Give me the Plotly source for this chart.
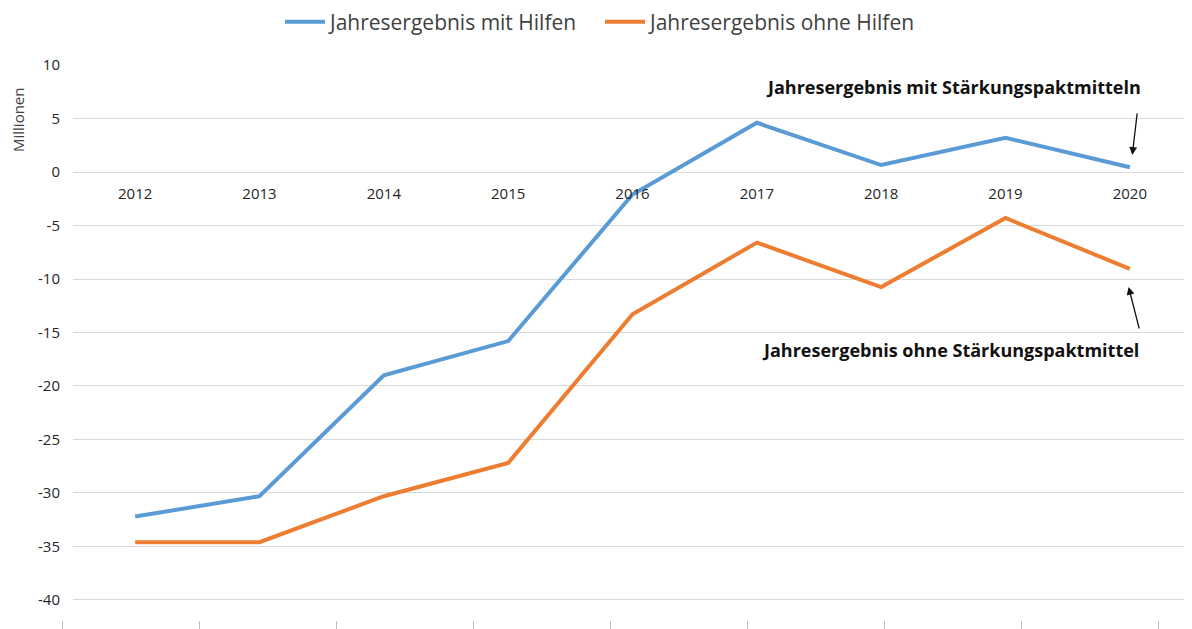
import plotly.graph_objects as go

years = ["2012", "2013", "2014", "2015", "2016", "2017", "2018", "2019", "2020"]
mit_hilfen = [-32.2, -30.3, -19.0, -15.8, -2.1, 4.6, 0.65, 3.2, 0.45]
ohne_hilfen = [-34.6, -34.6, -30.3, -27.2, -13.3, -6.6, -10.75, -4.3, -9.05]
y_ticks = [10, 5, 0, -5, -10, -15, -20, -25, -30, -35, -40]
y_tick_text = ["10", "5", "0", "-5", "-10", "-15", "-20", "-25", "-30", "-35", "-40"]
bottom_ticks = list(range(9))

FONT = "Open Sans"
BLUE = "#5B9BD5"
ORANGE = "#ED7D31"
GRID = "#D9D9D9"

y_min, y_max = -41.87, 10

fig = go.Figure()
fig.add_trace(go.Scatter(x=years, y=mit_hilfen, mode="lines", name="Jahresergebnis mit Hilfen",
                         line=dict(color=BLUE, width=4)))
fig.add_trace(go.Scatter(x=years, y=ohne_hilfen, mode="lines", name="Jahresergebnis ohne Hilfen",
                         line=dict(color=ORANGE, width=4)))
# invisible trace to carry the bottom tick axis
fig.add_trace(go.Scatter(x=[None], y=[None], xaxis="x2", yaxis="y2", showlegend=False,
                         hoverinfo="skip"))

# page body adds an 8px offset
W, H = 1184, 621
ml, mr, mt, mb = 32, 0, 57, 9
pw = W - ml - mr
ph = H - mt - mb
x_dom0 = (65 - ml) / pw
tick0 = 54 - ml          # first bottom tick in px inside plot area
tick_step = 137
x2_range = [-tick0 / tick_step, (pw - tick0) / tick_step]

fig.update_layout(
    width=W, height=H,
    margin=dict(l=ml, r=mr, t=mt, b=mb, autoexpand=False),
    paper_bgcolor="white", plot_bgcolor="white",
    font=dict(family=FONT, color="#333333"),
    showlegend=True,
    legend=dict(orientation="h", x=0.5, xanchor="center", xref="container",
                y=1 - 14 / H, yanchor="middle", yref="container",
                font=dict(size=21, color="#404040"), bgcolor="rgba(0,0,0,0)",
                itemwidth=40, entrywidth=265),
    xaxis=dict(domain=[x_dom0, 1], type="category", range=[-0.5, 8.5],
               anchor="free", position=(0 - y_min) / (y_max - y_min),
               showline=False, ticks="", showgrid=False, zeroline=False,
               tickfont=dict(size=15, color="#262626"), ticklabelstandoff=11),
    yaxis=dict(range=[y_min, y_max], tickvals=y_ticks, ticktext=y_tick_text, anchor="x",
               showgrid=True, gridcolor=GRID, gridwidth=1, zeroline=False,
               showline=False, ticks="", ticklabelstandoff=12,
               tickfont=dict(size=15, color="#262626")),
    xaxis2=dict(domain=[0, 1], anchor="y2", range=x2_range, tickvals=bottom_ticks,
                showticklabels=False, ticks="outside", ticklen=9, tickcolor="#BFBFBF",
                showgrid=False, zeroline=False, showline=False),
    yaxis2=dict(domain=[0, 0.01], anchor="x2", showgrid=False, range=[0, 1],
                showticklabels=False, ticks="", showline=False, zeroline=False),
)

fig.add_annotation(text="Millionen", xref="paper", yref="paper", x=(10 - ml) / pw,
                   y=(ph - (112 - mt)) / ph, textangle=-90, showarrow=False,
                   xanchor="center", yanchor="middle",
                   font=dict(size=15, color="#404040"))

fig.add_annotation(text="<b>Jahresergebnis mit Stärkungspaktmitteln</b>", x=6.58, y=7.94,
                   xref="x", yref="y", showarrow=False, font=dict(size=18, color="#111111"))
fig.add_annotation(text="<b>Jahresergebnis ohne Stärkungspaktmittel</b>", x=6.56, y=-16.6,
                   xref="x", yref="y", showarrow=False, font=dict(size=18, color="#111111"))

fig.add_annotation(text="", x=8.02, y=1.6, xref="x", yref="y", ax=5, ay=-43,
                   showarrow=True, arrowhead=2, arrowsize=1.2, arrowwidth=1.3, arrowcolor="#111111")
fig.add_annotation(text="", x=7.99, y=-10.75, xref="x", yref="y", ax=11, ay=43,
                   showarrow=True, arrowhead=2, arrowsize=1.2, arrowwidth=1.3, arrowcolor="#111111")

fig.write_html("out.html")
